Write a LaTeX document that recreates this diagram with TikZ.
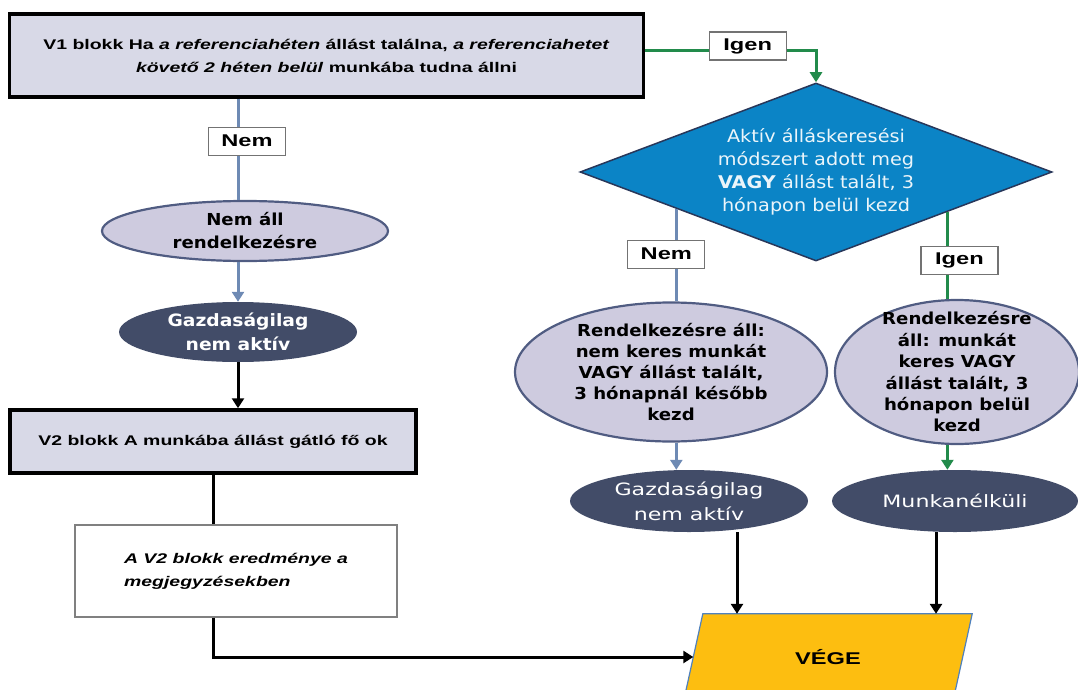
\documentclass[tikz,border=0pt]{standalone}
\usepackage{fontspec}
\setmainfont{Liberation Sans}[FakeStretch=1.39]
\newfontfamily\vfont{DejaVu Sans}[FakeStretch=1.1]
\newfontfamily\wfont{DejaVu Sans}[FakeStretch=1.3]
\usetikzlibrary{shapes.geometric,arrows.meta,calc,positioning,backgrounds}
\definecolor{boxfill}{RGB}{216,217,231}
\definecolor{ellfill}{RGB}{206,203,223}
\definecolor{elldraw}{RGB}{80,92,130}
\definecolor{darkell}{RGB}{66,76,104}
\definecolor{diafill}{RGB}{11,132,198}
\definecolor{diadraw}{RGB}{40,55,90}
\definecolor{bluelin}{RGB}{110,138,180}
\definecolor{greenlin}{RGB}{34,139,75}
\definecolor{vegefill}{RGB}{253,190,16}
\definecolor{vegedraw}{RGB}{79,129,189}
\begin{document}
\begin{tikzpicture}[x=1pt,y=-1pt,
    arr/.style={-{Triangle[length=10pt,width=12pt]}},
    bline/.style={draw=bluelin, line width=3pt},
    gline/.style={draw=greenlin, line width=3pt},
    kline/.style={draw=black, line width=3pt},
    blokk/.style={draw=black, line width=3.5pt, fill=boxfill, align=center, inner sep=0pt,
      font=\fontsize{14}{23}\selectfont\bfseries},
    lbl/.style={draw=black!55, line width=1.2pt, fill=white, inner sep=0pt,
      minimum width=77pt, minimum height=28pt, font=\fontsize{17}{18}\selectfont\bfseries},
    lightell/.style={ellipse, draw=elldraw, line width=2.2pt, fill=ellfill, inner sep=0pt},
    darkellip/.style={ellipse, fill=darkell, inner sep=0pt},
    ltxt/.style={align=center, font=\vfont\fontsize{16.5}{21}\selectfont\bfseries},
    dtxt/.style={align=center, text=white, font=\vfont\fontsize{17}{24}\selectfont\bfseries},
    wtxt/.style={align=center, text=white, font=\wfont\fontsize{17}{25}\selectfont}]
  \useasboundingbox (0,0) rectangle (1078,690);
  % left column
  \node[blokk, minimum width=634pt, minimum height=83pt] (v1) at (326.5,55.5)
    {V1 blokk Ha \textit{a referenciahéten} állást találna, \textit{a referenciahetet}\\
     \textit{követő 2 héten belül} munkába tudna állni};
  \node[lightell, minimum width=286pt, minimum height=60pt,
    label={[ltxt, font=\vfont\fontsize{16.5}{23}\selectfont\bfseries]center:{Nem áll\\rendelkezésre}}] (nemall) at (245,231) {};
  \node[darkellip, minimum width=238pt, minimum height=60pt,
    label={[dtxt]center:{Gazdaságilag\\nem aktív}}] (gaz1) at (238,332) {};
  \node[blokk, minimum width=406pt, minimum height=63pt] (v2) at (213,441.5)
    {V2 blokk A munkába állást gátló fő ok};
  \node[draw=black!50, line width=1.2pt, fill=white, minimum width=322pt, minimum height=92pt,
    inner sep=0pt, align=left, font=\fontsize{14}{23}\selectfont\bfseries\itshape] (v2res) at (236,571)
    {A V2 blokk eredménye a\\megjegyzésekben};
  % right column
  \node[diamond, aspect=2.65, draw=diadraw, line width=1.5pt, fill=diafill, inner sep=0pt,
    minimum width=472pt, minimum height=178pt, text=white!92!diafill, align=center,
    font=\vfont\fontsize{17.5}{23}\selectfont] (dia) at (816,172)
    {Aktív álláskeresési\\módszert adott meg\\\textbf{VAGY} állást talált, 3\\hónapon belül kezd};
  \node[lightell, minimum width=312pt, minimum height=139pt,
    label={[ltxt]center:{Rendelkezésre áll:\\nem keres munkát\\VAGY állást talált,\\3 hónapnál később\\kezd}}] (rend1) at (671,372) {};
  \node[lightell, minimum width=244pt, minimum height=144pt,
    label={[ltxt, font=\vfont\fontsize{16.5}{21.4}\selectfont\bfseries]center:{Rendelkezésre\\áll: munkát\\keres VAGY\\állást talált, 3\\hónapon belül\\kezd}}] (rend2) at (957,372) {};
  \node[darkellip, minimum width=238pt, minimum height=62pt,
    label={[wtxt]center:{Gazdaságilag\\nem aktív}}] (gaz2) at (689,501) {};
  \node[darkellip, minimum width=246pt, minimum height=62pt,
    label={[wtxt]center:{Munkanélküli}}] (munka) at (955,501) {};
  \node[minimum width=269pt, minimum height=86pt, inner sep=0pt,
    font=\fontsize{17}{20}\selectfont\bfseries] (vege) at (828,657) {VÉGE};
  \begin{scope}[on background layer]
    \draw[draw=vegedraw, line width=1.2pt, fill=vegefill]
      ([xshift=9.5pt]vege.north west) -- ([xshift=9.5pt]vege.north east)
      -- ([xshift=-9.5pt]vege.south east) -- ([xshift=-9.5pt]vege.south west) -- cycle;
  \end{scope}
  \coordinate (dl) at ($(dia.west)!0.41!(dia.south)$);
  \coordinate (dr) at ($(dia.east)!0.445!(dia.south)$);
  % connectors
  \draw[bline] (v1.south -| gaz1.north) -- node[lbl, pos=0.42, xshift=9pt] (nem1) {Nem} (nemall.north -| gaz1.north);
  \draw[bline, arr] (nemall.south -| gaz1.north) -- (gaz1.north);
  \draw[kline, arr] (gaz1.south) -- (v2.north -| gaz1.south);
  \draw[kline] (v2.south) -- (v2res.north -| v2.south);
  \draw[kline, arr] (v2res.south -| v2.south) |- (vege.west);
  \draw[gline, arr] ([yshift=4.5pt]v1.east) -| node[lbl, pos=0.3, yshift=5pt] (igen1) {Igen} (dia.north);
  \draw[bline] (dl) -- node[lbl, pos=0.49, xshift=-10pt] (nem2) {Nem} (dl |- rend1.north);
  \draw[gline] (dr) -- node[lbl, pos=0.56, xshift=12pt] (igen2) {Igen} (dr |- rend2.north);
  \draw[bline, arr] (dl |- rend1.south) -- (dl |- gaz2.north);
  \draw[gline, arr] (dr |- rend2.south) -- (dr |- munka.north);
  \draw[kline, arr] ([xshift=48pt]gaz2.south) -- ([xshift=48pt]gaz2.south |- vege.north);
  \draw[kline, arr] ([xshift=-19pt]munka.south) -- ([xshift=-19pt]munka.south |- vege.north);
\end{tikzpicture}
\end{document}
